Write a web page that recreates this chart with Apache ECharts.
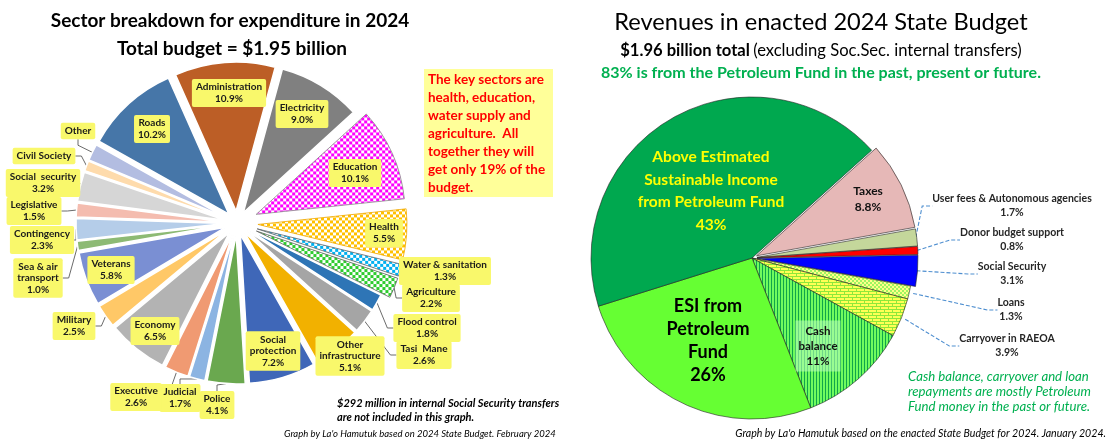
<!DOCTYPE html>
<html><head><meta charset="utf-8">
<script src="https://cdn.jsdelivr.net/npm/echarts@6/dist/echarts.min.js"></script>
<style>html,body{margin:0;padding:0;background:#fff}#c{width:1110px;height:441px}</style>
</head><body><div id="c"></div>
<script>
// ---------- DATA ----------
const sectorNames = ['Administration','Electricity','Education','Health','Water & sanitation','Agriculture','Flood control','Tasi Mane','Other infrastructure','Social protection','Police','Judicial','Executive','Economy','Military','Veterans','Sea & air transport','Contingency','Legislative','Social security','Civil Society','Other','Roads'];
const sectorShares = [10.9,9.0,10.1,5.5,1.3,2.2,1.8,2.6,5.1,7.2,4.1,1.7,2.6,6.5,2.5,5.8,1.0,2.3,1.5,3.2,1.1,1.8,10.2];
const sectorLabelNames = ['Administration','Electricity','Education','Health','Water & sanitation','Agriculture','Flood control','Tasi  Mane','Other\ninfrastructure','Social\nprotection','Police','Judicial','Executive','Economy','Military','Veterans','Sea & air\ntransport','Contingency','Legislative','Social  security','Civil Society','Other','Roads'];
const sectorsWithoutPct = ['Civil Society','Other'];
const keySectors = ['Education','Health','Water & sanitation','Agriculture'];

const revenueNames = ['Taxes','User fees & Autonomous agencies','Donor budget support','Social Security','Loans','Carryover in RAEOA','Cash balance','ESI from Petroleum Fund','Above Estimated Sustainable Income from Petroleum Fund'];
const revenueShares = [8.8,1.7,0.8,3.1,1.3,3.9,11,26,43];
const revenueLabelNames = ['Taxes','User fees & Autonomous agencies','Donor budget support','Social Security','Loans','Carryover in RAEOA','Cash\nbalance','ESI from\nPetroleum\nFund','Above Estimated\nSustainable Income\nfrom Petroleum Fund'];
const revenueExploded = ['Taxes','User fees & Autonomous agencies','Donor budget support','Social Security'];

// ---------- STYLE / LAYOUT ----------
const FONT = 'Lato, "Open Sans", sans-serif';
function pattern(w, h, draw) {
  const c = document.createElement('canvas'); c.width = w; c.height = h;
  draw(c.getContext('2d')); return { image: c, repeat: 'repeat' };
}
function checker(col) {
  return pattern(6, 6, g => { g.fillStyle = '#fff'; g.fillRect(0,0,6,6); g.fillStyle = col; g.fillRect(0,0,3,3); g.fillRect(3,3,3,3); });
}
const stripes = pattern(3, 3, g => { g.fillStyle = '#70fb5e'; g.fillRect(0,0,3,3); g.fillStyle = '#10a54a'; g.fillRect(0,0,1,3); });
const bricks = pattern(8, 6, g => { g.fillStyle = '#ffff55'; g.fillRect(0,0,8,6); g.fillStyle = '#8ee83a'; g.fillRect(0,0,8,1); g.fillRect(0,3,8,1); g.fillRect(0,0,1,3); g.fillRect(4,3,1,3); });
const dots = pattern(4, 4, g => { g.fillStyle = '#ffff88'; g.fillRect(0,0,4,4); g.fillStyle = '#9cf562'; g.fillRect(0,0,2,2); g.fillRect(2,2,2,2); });

const sectorColors = {
  'Administration':'#bc5e26','Electricity':'#808080','Education':checker('#ff00ff'),'Health':checker('#ffc000'),
  'Water & sanitation':checker('#00b0f0'),'Agriculture':checker('#2ecc2e'),'Flood control':'#2e75b6','Tasi Mane':'#a5a5a5',
  'Other infrastructure':'#f2b100','Social protection':'#3f67b8','Police':'#6aa84f','Judicial':'#8cb4e2','Executive':'#f09a72',
  'Economy':'#b3b3b3','Military':'#ffc867','Veterans':'#7a8fd3','Sea & air transport':'#8dba74','Contingency':'#b5cde9',
  'Legislative':'#f4bcaf','Social security':'#d6d6d6','Civil Society':'#fedbac','Other':'#b3bde1','Roads':'#4676a8'
};
const keyBorder = {'Education':'#8a8a8a','Health':'#f0a800','Water & sanitation':'#666','Agriculture':'#666'};
const revenueColors = {
  'Taxes':'#e6b8b7','User fees & Autonomous agencies':'#c4d79b','Donor budget support':'#ff0000','Social Security':'#0000ff',
  'Loans':dots,'Carryover in RAEOA':bricks,'Cash balance':stripes,'ESI from Petroleum Fund':'#66ff33',
  'Above Estimated Sustainable Income from Petroleum Fund':'#00a84f'
};
const sectorLabelPos = {
  'Administration':[229,93],'Roads':[152,129],'Electricity':[302,114],'Education':[355,173],'Health':[384,233],
  'Water & sanitation':[445,271],'Agriculture':[431,298],'Flood control':[427,328],'Tasi Mane':[424,355],
  'Other infrastructure':[350,356],'Social protection':[273,351],'Police':[217,405],'Judicial':[180,398],
  'Executive':[136,397],'Economy':[155,331],'Military':[74,326],'Veterans':[111,270],'Sea & air transport':[38,278],
  'Contingency':[42,240],'Legislative':[34,211],'Social security':[43,183],'Civil Society':[44,156],'Other':[78,131]
};
const sectorInside = ['Administration','Roads','Electricity','Education','Health','Veterans','Economy','Social protection','Other infrastructure'];
const revenueLabelPos = {
  'User fees & Autonomous agencies':[1012,206],'Donor budget support':[1012,240],'Social Security':[1012,274],
  'Loans':[1011,310],'Carryover in RAEOA':[1007,346],'Taxes':[868,199],'Cash balance':[818,346],
  'ESI from Petroleum Fund':[708,341],'Above Estimated Sustainable Income from Petroleum Fund':[711,191]
};
const revenueInside = ['Taxes','Cash balance','ESI from Petroleum Fund','Above Estimated Sustainable Income from Petroleum Fund'];

const LEFT_C = [237, 223], LEFT_R = 149, RIGHT_C = [752, 258], RIGHT_R = 161;
const clear = { color: 'rgba(0,0,0,0)', borderWidth: 0 };

function layoutFrom(names, pos) {
  return function (p) {
    const q = pos[names[p.dataIndex]];
    if (!q) return {};
    return { x: q[0], y: q[1], align: 'center', verticalAlign: 'middle' };
  };
}

function sectorSlices(keyLayer) {
  return {
    type: 'pie', center: LEFT_C, radius: LEFT_R, startAngle: 114, clockwise: true,
    selectedMode: 'multiple', selectedOffset: keyLayer ? 21 : 12, silent: true,
    label: { show: false }, labelLine: { show: false }, emphasis: { disabled: true },
    data: sectorNames.map((n, i) => {
      const isKey = keySectors.includes(n);
      const visible = keyLayer ? isKey : !isKey;
      return {
        name: n, value: sectorShares[i], selected: visible,
        itemStyle: visible ? { color: sectorColors[n], borderColor: isKey ? keyBorder[n] : '#fff', borderWidth: isKey ? 0.8 : 1.5 } : clear
      };
    })
  };
}
function sectorLabels(keyLayer, radius) {
  return {
    type: 'pie', center: LEFT_C, radius: radius, startAngle: 114, clockwise: true, silent: true,
    avoidLabelOverlap: false, emphasis: { disabled: true },
    labelLayout: layoutFrom(sectorNames, sectorLabelPos),
    label: { show: true, position: 'outside', backgroundColor: '#f9f86b', padding: [3, 4, 2, 4], borderRadius: 2,
             color: '#1a1a1a', fontFamily: FONT, fontSize: 10, fontWeight: 'bold', lineHeight: 11.5, align: 'center' },
    labelLine: { show: true, length: 6, length2: 6, smooth: false, lineStyle: { color: '#5a5a5a', width: 0.9 } },
    data: sectorNames.map((n, i) => {
      const isKey = keySectors.includes(n);
      const mine = keyLayer ? isKey : !isKey;
      const txt = sectorLabelNames[i] + (sectorsWithoutPct.includes(n) ? '' : '\n' + sectorShares[i].toFixed(1) + '%');
      return {
        name: n, value: sectorShares[i], itemStyle: clear,
        label: mine ? { show: true, formatter: txt } : { show: false },
        labelLine: { show: mine && !sectorInside.includes(n) }
      };
    })
  };
}

const revenueSlices = {
  type: 'pie', center: RIGHT_C, radius: RIGHT_R, startAngle: 42, clockwise: true,
  selectedMode: 'multiple', selectedOffset: 5, silent: true,
  label: { show: false }, labelLine: { show: false }, emphasis: { disabled: true },
  data: revenueNames.map((n, i) => ({
    name: n, value: revenueShares[i], selected: revenueExploded.includes(n),
    itemStyle: { color: revenueColors[n], borderColor: '#222', borderWidth: 0.6 }
  }))
};
const revenueLabelStyles = {
  'Taxes': { fontSize: 12, lineHeight: 16, color: '#111' },
  'Cash balance': { fontSize: 11.5, lineHeight: 15, color: '#111', backgroundColor: 'rgba(190,255,190,0.55)', padding: [3, 3] },
  'ESI from Petroleum Fund': { fontSize: 18, lineHeight: 23, color: '#000' },
  'Above Estimated Sustainable Income from Petroleum Fund': { fontSize: 15.5, lineHeight: 22.7, color: '#ffff00' }
};
const revenueLabels = {
  type: 'pie', center: RIGHT_C, radius: RIGHT_R + 4, startAngle: 42, clockwise: true, silent: true,
  avoidLabelOverlap: false, emphasis: { disabled: true },
  labelLayout: layoutFrom(revenueNames, revenueLabelPos),
  label: { show: true, position: 'outside', color: '#262626', fontFamily: FONT, fontSize: 10.5, fontWeight: 'bold', lineHeight: 14, align: 'center' },
  labelLine: { show: true, length: 8, length2: 10, lineStyle: { color: '#4f8fd0', width: 1.1, type: [4, 2] } },
  data: revenueNames.map((n, i) => {
    const pct = Number.isInteger(revenueShares[i]) ? revenueShares[i] + '%' : revenueShares[i].toFixed(1) + '%';
    return {
      name: n, value: revenueShares[i], itemStyle: clear,
      label: Object.assign({ formatter: revenueLabelNames[i] + '\n' + pct }, revenueLabelStyles[n] || {}),
      labelLine: { show: !revenueInside.includes(n) }
    };
  })
};

function txt(x, y, text, font, fill, align) {
  return { type: 'text', x: x, y: y, silent: true,
    style: { text: text, font: font, fill: fill || '#000', align: align || 'center', verticalAlign: 'middle' } };
}

const chart = echarts.init(document.getElementById('c'), null, { renderer: 'canvas' });
chart.setOption({
  animation: false,
  backgroundColor: '#fff',
  series: [sectorSlices(false), sectorSlices(true), sectorLabels(false, LEFT_R + 12), sectorLabels(true, LEFT_R + 21), revenueSlices, revenueLabels],
  graphic: [
    txt(230, 21, 'Sector breakdown for expenditure in 2024', 'bold 19px ' + FONT),
    txt(232, 49, 'Total budget = $1.95 billion', 'bold 19px ' + FONT),
    { type: 'rect', silent: true, shape: { x: 424, y: 69, width: 129, height: 128 }, style: { fill: '#ffff99' } },
    { type: 'text', silent: true, x: 428, y: 71, style: {
        text: 'The key sectors are\nhealth, education,\nwater supply and\nagriculture.  All\ntogether they will\nget only 19% of the\nbudget.',
        font: 'bold 13.5px ' + FONT, fill: '#ff0000', lineHeight: 17.9, align: 'left', verticalAlign: 'top' } },
    txt(337, 403, '$292 million in internal Social Security transfers', 'italic bold 11px ' + FONT, '#000', 'left'),
    txt(337, 417, 'are not included in this graph.', 'italic bold 11px ' + FONT, '#000', 'left'),
    txt(284, 434, "Graph by La'o Hamutuk based on 2024 State Budget. February 2024", 'italic 9.5px ' + FONT, '#000', 'left'),
    txt(821, 22, 'Revenues in enacted 2024 State Budget', '23.6px ' + FONT),
    { type: 'text', silent: true, x: 821, y: 51, style: {
        text: '{b|$1.96 billion total} {r|(excluding Soc.Sec. internal transfers)}', align: 'center', verticalAlign: 'middle',
        rich: { b: { font: 'bold 16.6px ' + FONT, fill: '#000' }, r: { font: '16.6px ' + FONT, fill: '#000' } } } },
    txt(821, 73, '83% is from the Petroleum Fund in the past, present or future.', 'bold 16px ' + FONT, '#00b050'),
    txt(908, 377, 'Cash balance, carryover and loan', 'italic 13.2px ' + FONT, '#00b050', 'left'),
    txt(908, 392, 'repayments are mostly Petroleum', 'italic 13.2px ' + FONT, '#00b050', 'left'),
    txt(908, 407, 'Fund money in the past or future.', 'italic 13.2px ' + FONT, '#00b050', 'left'),
    txt(1106, 434, "Graph by La'o Hamutuk based on the enacted State Budget for 2024. January 2024.", 'italic 10.6px ' + FONT, '#000', 'right')
  ]
});
</script></body></html>
